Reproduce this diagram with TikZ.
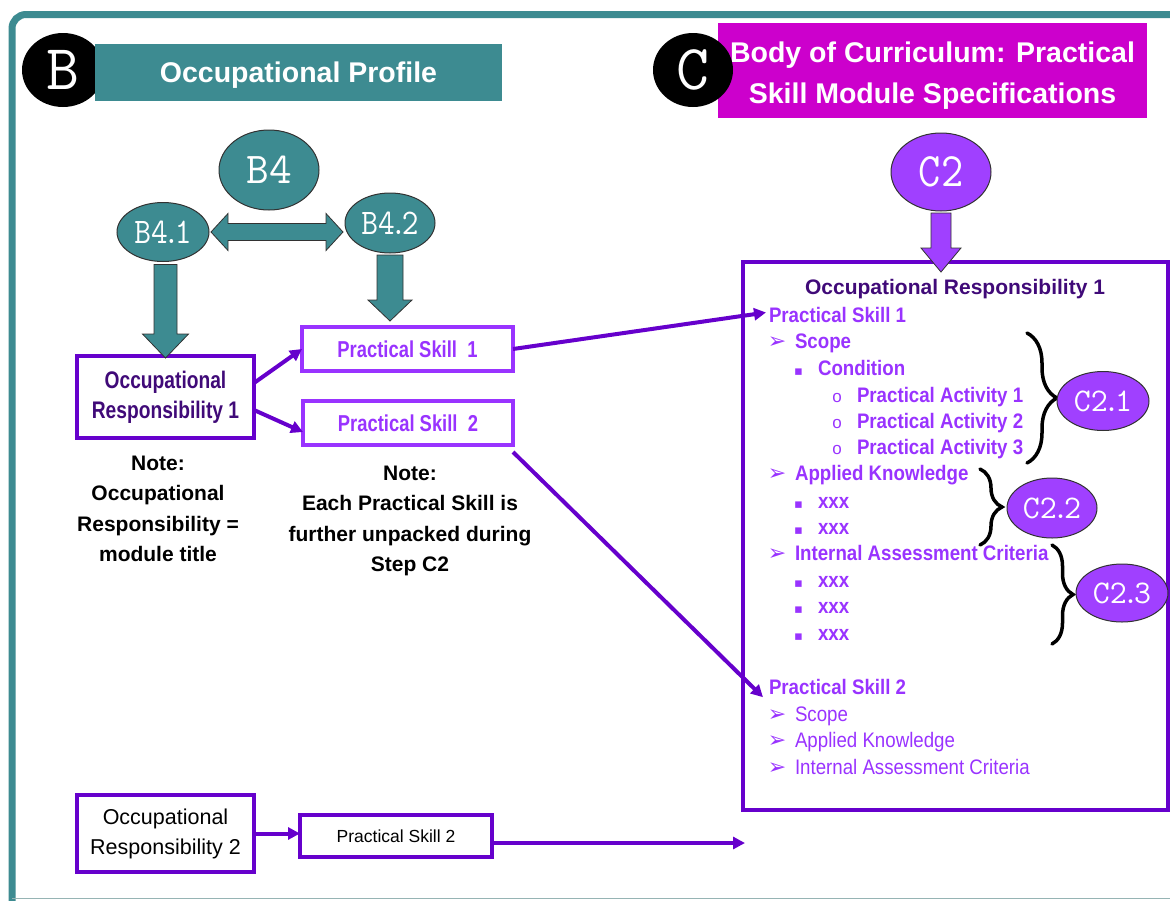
\documentclass[tikz,border=0pt]{standalone}
\usepackage{fontspec}
\setmainfont{Liberation Sans}
\newfontfamily\narrowsans{Liberation Sans}[FakeStretch=0.8]
\newfontfamily\listsans{Liberation Sans}[FakeStretch=0.89]
\newfontfamily\symfont{DejaVu Sans}
\usetikzlibrary{shapes.geometric,arrows.meta,calc,decorations.pathreplacing}

\definecolor{frameteal}{RGB}{61,139,145}
\definecolor{framegray}{RGB}{150,180,180}
\definecolor{bannermag}{RGB}{204,0,204}
\definecolor{bubble}{RGB}{160,64,255}
\definecolor{deeppurple}{RGB}{102,0,204}
\definecolor{skillpurple}{RGB}{153,51,255}
\definecolor{titlepurple}{RGB}{64,10,120}
\definecolor{outline}{RGB}{50,50,50}

\newcommand\fsz[2]{\fontsize{#1}{#2}\selectfont}
% lower a text block without changing the size its node sees
\newcommand\lowered[2]{\raisebox{-#1}[\height][\depth]{#2}}

% horizontal two-headed block arrow between two tip points
\newcommand\hdoubleblock[3]{%
  \path[#3] let \p1=(#1), \p2=(#2) in
    (\x1,\y1) -- (\x1+17pt,\y1+18.5pt) -- (\x1+17pt,\y1+8.5pt)
    -- (\x2-17pt,\y1+8.5pt) -- (\x2-17pt,\y1+18.5pt) -- (\x2,\y1)
    -- (\x2-17pt,\y1-18.5pt) -- (\x2-17pt,\y1-8.5pt)
    -- (\x1+17pt,\y1-8.5pt) -- (\x1+17pt,\y1-18.5pt) -- cycle;}

% downward block arrow: top point, tip, half shaft, half head, head length, style
\newcommand\vblock[6]{%
  \path[#6] let \p1=(#1), \p2=(#2) in
    (\x2-#3,\y1) -- (\x2-#3,\y2+#5) -- (\x2-#4,\y2+#5) -- (\x2,\y2)
    -- (\x2+#4,\y2+#5) -- (\x2+#3,\y2+#5) -- (\x2+#3,\y1) -- cycle;}

\tikzset{
  every node/.style={inner sep=0pt, outer sep=0pt},
  banner/.style={rectangle, text=white, align=center,
    font=\bfseries\fsz{28.5}{41}},
  letterdisc/.style={ellipse, fill=black, text=white,
    font=\ttfamily\fsz{64}{64}},
  tealbubble/.style={ellipse, fill=frameteal, draw=outline, line width=1pt,
    text=white},
  violetbubble/.style={ellipse, fill=bubble, draw=outline, line width=1pt,
    text=white},
  tealblock/.style={fill=frameteal, draw=outline, line width=0.8pt},
  violetblock/.style={fill=bubble, draw=outline, line width=0.8pt},
  orbox/.style={rectangle, draw=deeppurple, line width=3.5pt, align=center},
  skillbox/.style={rectangle, draw=skillpurple, line width=3.5pt,
    text=skillpurple, font=\narrowsans\bfseries\fsz{23}{28}},
  plainbox/.style={rectangle, draw=deeppurple, line width=3.5pt,
    align=center, text=black},
  notetext/.style={align=center, text=black, font=\bfseries\fsz{21}{30.5}},
  link/.style={draw=deeppurple, line width=4pt,
    -{Triangle[length=12pt,width=12pt]}},
  rtitle/.style={anchor=base, text=titlepurple, font=\bfseries\fsz{21}{25}},
  rbold/.style={anchor=base west, text=skillpurple,
    font=\listsans\bfseries\fsz{21}{25}},
  rplain/.style={anchor=base west, text=skillpurple,
    font=\listsans\fsz{21}{25}},
  arrowbullet/.style={anchor=base, text=skillpurple, font=\symfont\fsz{22}{22}},
  sqbullet/.style={anchor=base, text=skillpurple, font=\symfont\fsz{13}{13}},
  circbullet/.style={anchor=base, text=skillpurple, font=\fsz{17}{17}},
  curly/.style={draw=black, line width=3.5pt, line cap=round, decorate},
}

\begin{document}
\begin{tikzpicture}[x=1pt, y=-1pt]
\useasboundingbox (0,0) rectangle (1170,900);

% outer frame
\draw[frameteal, line width=7pt, rounded corners=14pt]
  (1190,14.5) -- (12,14.5) -- (12,920);
\draw[framegray, line width=1.5pt] (12,898.5) -- (1180,898.5);

% section headers
\node[letterdisc, minimum width=82, minimum height=74] (discB) at (63,70) {B};
\node[banner, fill=frameteal, minimum width=407, minimum height=57]
  (bannerB) at (298.5,72.5) {\lowered{3pt}{Occupational Profile}};
\node[banner, fill=bannermag, minimum width=429, minimum height=95]
  (bannerC) at (932.5,70.5)
  {\lowered{4pt}{\begin{tabular}{@{}c@{}}Body of Curriculum: Practical\\Skill Module Specifications\end{tabular}}};
\node[letterdisc, minimum width=80, minimum height=74] (discC) at (693,70) {C};

% B4 bubbles
\node[tealbubble, minimum width=100, minimum height=80,
  font=\ttfamily\fsz{44}{44}] (b4) at (269,170) {B4};
\node[tealbubble, minimum width=92, minimum height=59,
  font=\ttfamily\fsz{36}{36}] (b41) at (163,232)
  {\scalebox{0.9}[1]{B4\kern-.15em.\kern-.15em1}};
\node[tealbubble, minimum width=90, minimum height=60,
  font=\ttfamily\fsz{36}{36}] (b42) at (390,223)
  {\scalebox{0.9}[1]{B4\kern-.15em.\kern-.15em2}};

% occupational profile boxes
\node[orbox, minimum width=177, minimum height=82, text=titlepurple,
  font=\narrowsans\bfseries\fsz{24}{30}] (or1) at (165.5,397)
  {Occupational\\Responsibility 1};
\node[skillbox, minimum width=211, minimum height=44] (ps1) at (407.5,349)
  {Practical Skill\ \ 1};
\node[skillbox, minimum width=210, minimum height=44] (ps2) at (408,423)
  {Practical Skill\ \ 2};

\node[notetext] (note1) at (158,509)
  {Note:\\Occupational\\Responsibility =\\module title};
\node[notetext] (note2) at (410,521)
  {Note:\\Each Practical Skill is\\further unpacked during\\Step C2};

\node[plainbox, minimum width=177, minimum height=77, font=\fsz{21.5}{30}]
  (or2) at (165.5,833.5) {Occupational\\Responsibility 2};
\node[plainbox, minimum width=192, minimum height=42, font=\fsz{17.5}{20}]
  (ps2b) at (396,836) {Practical Skill 2};

% C2 bubble and module specification box
\node[violetbubble, minimum width=100, minimum height=78,
  font=\ttfamily\fsz{48}{48}] (c2) at (941,172) {\scalebox{0.9}[1]{C2}};
\node[rectangle, draw=deeppurple, line width=4.5pt,
  minimum width=425, minimum height=548] (rbox) at (955.5,536) {};

\node[rtitle] (rtitle) at (955,294) {Occupational Responsibility 1};
\node[rbold] (rps1) at (769,322) {Practical Skill 1};

\node[arrowbullet] (ab1) at (777,348) {➢};
\node[rbold] (scope1) at (795,348) {Scope};
\node[sqbullet] (sq1) at (798.5,375) {▪};
\node[rbold] (cond1) at (818,375) {Condition};
\foreach \n/\yy in {1/402,2/428,3/454}{
  \node[circbullet] (cb\n) at (837,\yy) {o};
  \node[rbold] (pa\n) at (857,\yy) {Practical Activity \n};
}
\node[arrowbullet] (ab2) at (777,480) {➢};
\node[rbold] (ak1) at (795,480) {Applied Knowledge};
\foreach \n/\yy in {1/508,2/534}{
  \node[sqbullet] (sqa\n) at (798.5,\yy) {▪};
  \node[rbold] (xa\n) at (818,\yy) {xxx};
}
\node[arrowbullet] (ab3) at (777,560) {➢};
\node[rbold] (iac1) at (795,560) {Internal Assessment Criteria};
\foreach \n/\yy in {1/587,2/613,3/640}{
  \node[sqbullet] (sqi\n) at (798.5,\yy) {▪};
  \node[rbold] (xi\n) at (818,\yy) {xxx};
}

\node[rbold] (rps2) at (769,694) {Practical Skill 2};
\node[arrowbullet] (ab4) at (777,721) {➢};
\node[rplain] (scope2) at (795,721) {Scope};
\node[arrowbullet] (ab5) at (777,747) {➢};
\node[rplain] (ak2) at (795,747) {Applied Knowledge};
\node[arrowbullet] (ab6) at (777,774) {➢};
\node[rplain] (iac2) at (795,774) {Internal Assessment Criteria};

% braces and step bubbles
\draw[curly, decoration={brace, amplitude=30pt}] (1027,333) -- (1027,463);
\draw[curly, decoration={brace, amplitude=22pt}] (980,469) -- (980,545);
\draw[curly, decoration={brace, amplitude=21pt}] (1052,545) -- (1052,644);
\node[violetbubble, minimum width=92, minimum height=59,
  font=\ttfamily\fsz{33}{33}] (c21) at (1103,401)
  {C2\kern-.15em.\kern-.15em1};
\node[violetbubble, minimum width=90, minimum height=60,
  font=\ttfamily\fsz{33}{33}] (c22) at (1052,508)
  {C2\kern-.15em.\kern-.15em2};
\node[violetbubble, minimum width=92, minimum height=58,
  font=\ttfamily\fsz{33}{33}] (c23) at (1122,593)
  {C2\kern-.15em.\kern-.15em3};

% block arrows
\hdoubleblock{$(b41.east)+(2,0)$}{$(b41.east -| b42.west)+(-2,0)$}{tealblock}
\coordinate (a1top) at ($(b41.south)+(0,3)$);
\coordinate (a1tip) at ($(or1.north)+(0,2)$);
\vblock{a1top}{a1tip}{11.5pt}{23pt}{24pt}{tealblock}
\coordinate (a2top) at ($(b42.south)+(0,2)$);
\coordinate (a2tip) at ($(b42.south |- ps1.north)+(0,-6)$);
\vblock{a2top}{a2tip}{13pt}{22pt}{21pt}{tealblock}
\coordinate (a3top) at ($(c2.south)+(0,2)$);
\coordinate (a3tip) at ($(c2.south |- rbox.north)+(0,10)$);
\vblock{a3top}{a3tip}{10pt}{20pt}{24pt}{violetblock}

% connectors
\draw[link] ($(or1.east)+(0,-14)$) -- (ps1.west);
\draw[link] ($(or1.east)+(0,13)$) -- ($(ps2.west)+(0,9)$);
\draw[link] (ps1.east) -- ($(rps1.west)+(-3,-2)$);
\draw[link] ($(ps2.south east)+(0,7)$) -- ($(rps2.south west)+(-6,3)$);
\draw[link] (or2.east) -- (or2.east -| ps2b.west);
\coordinate (openend) at (745,843);
\draw[link] (ps2b.east |- openend) -- (openend);
\end{tikzpicture}
\end{document}
